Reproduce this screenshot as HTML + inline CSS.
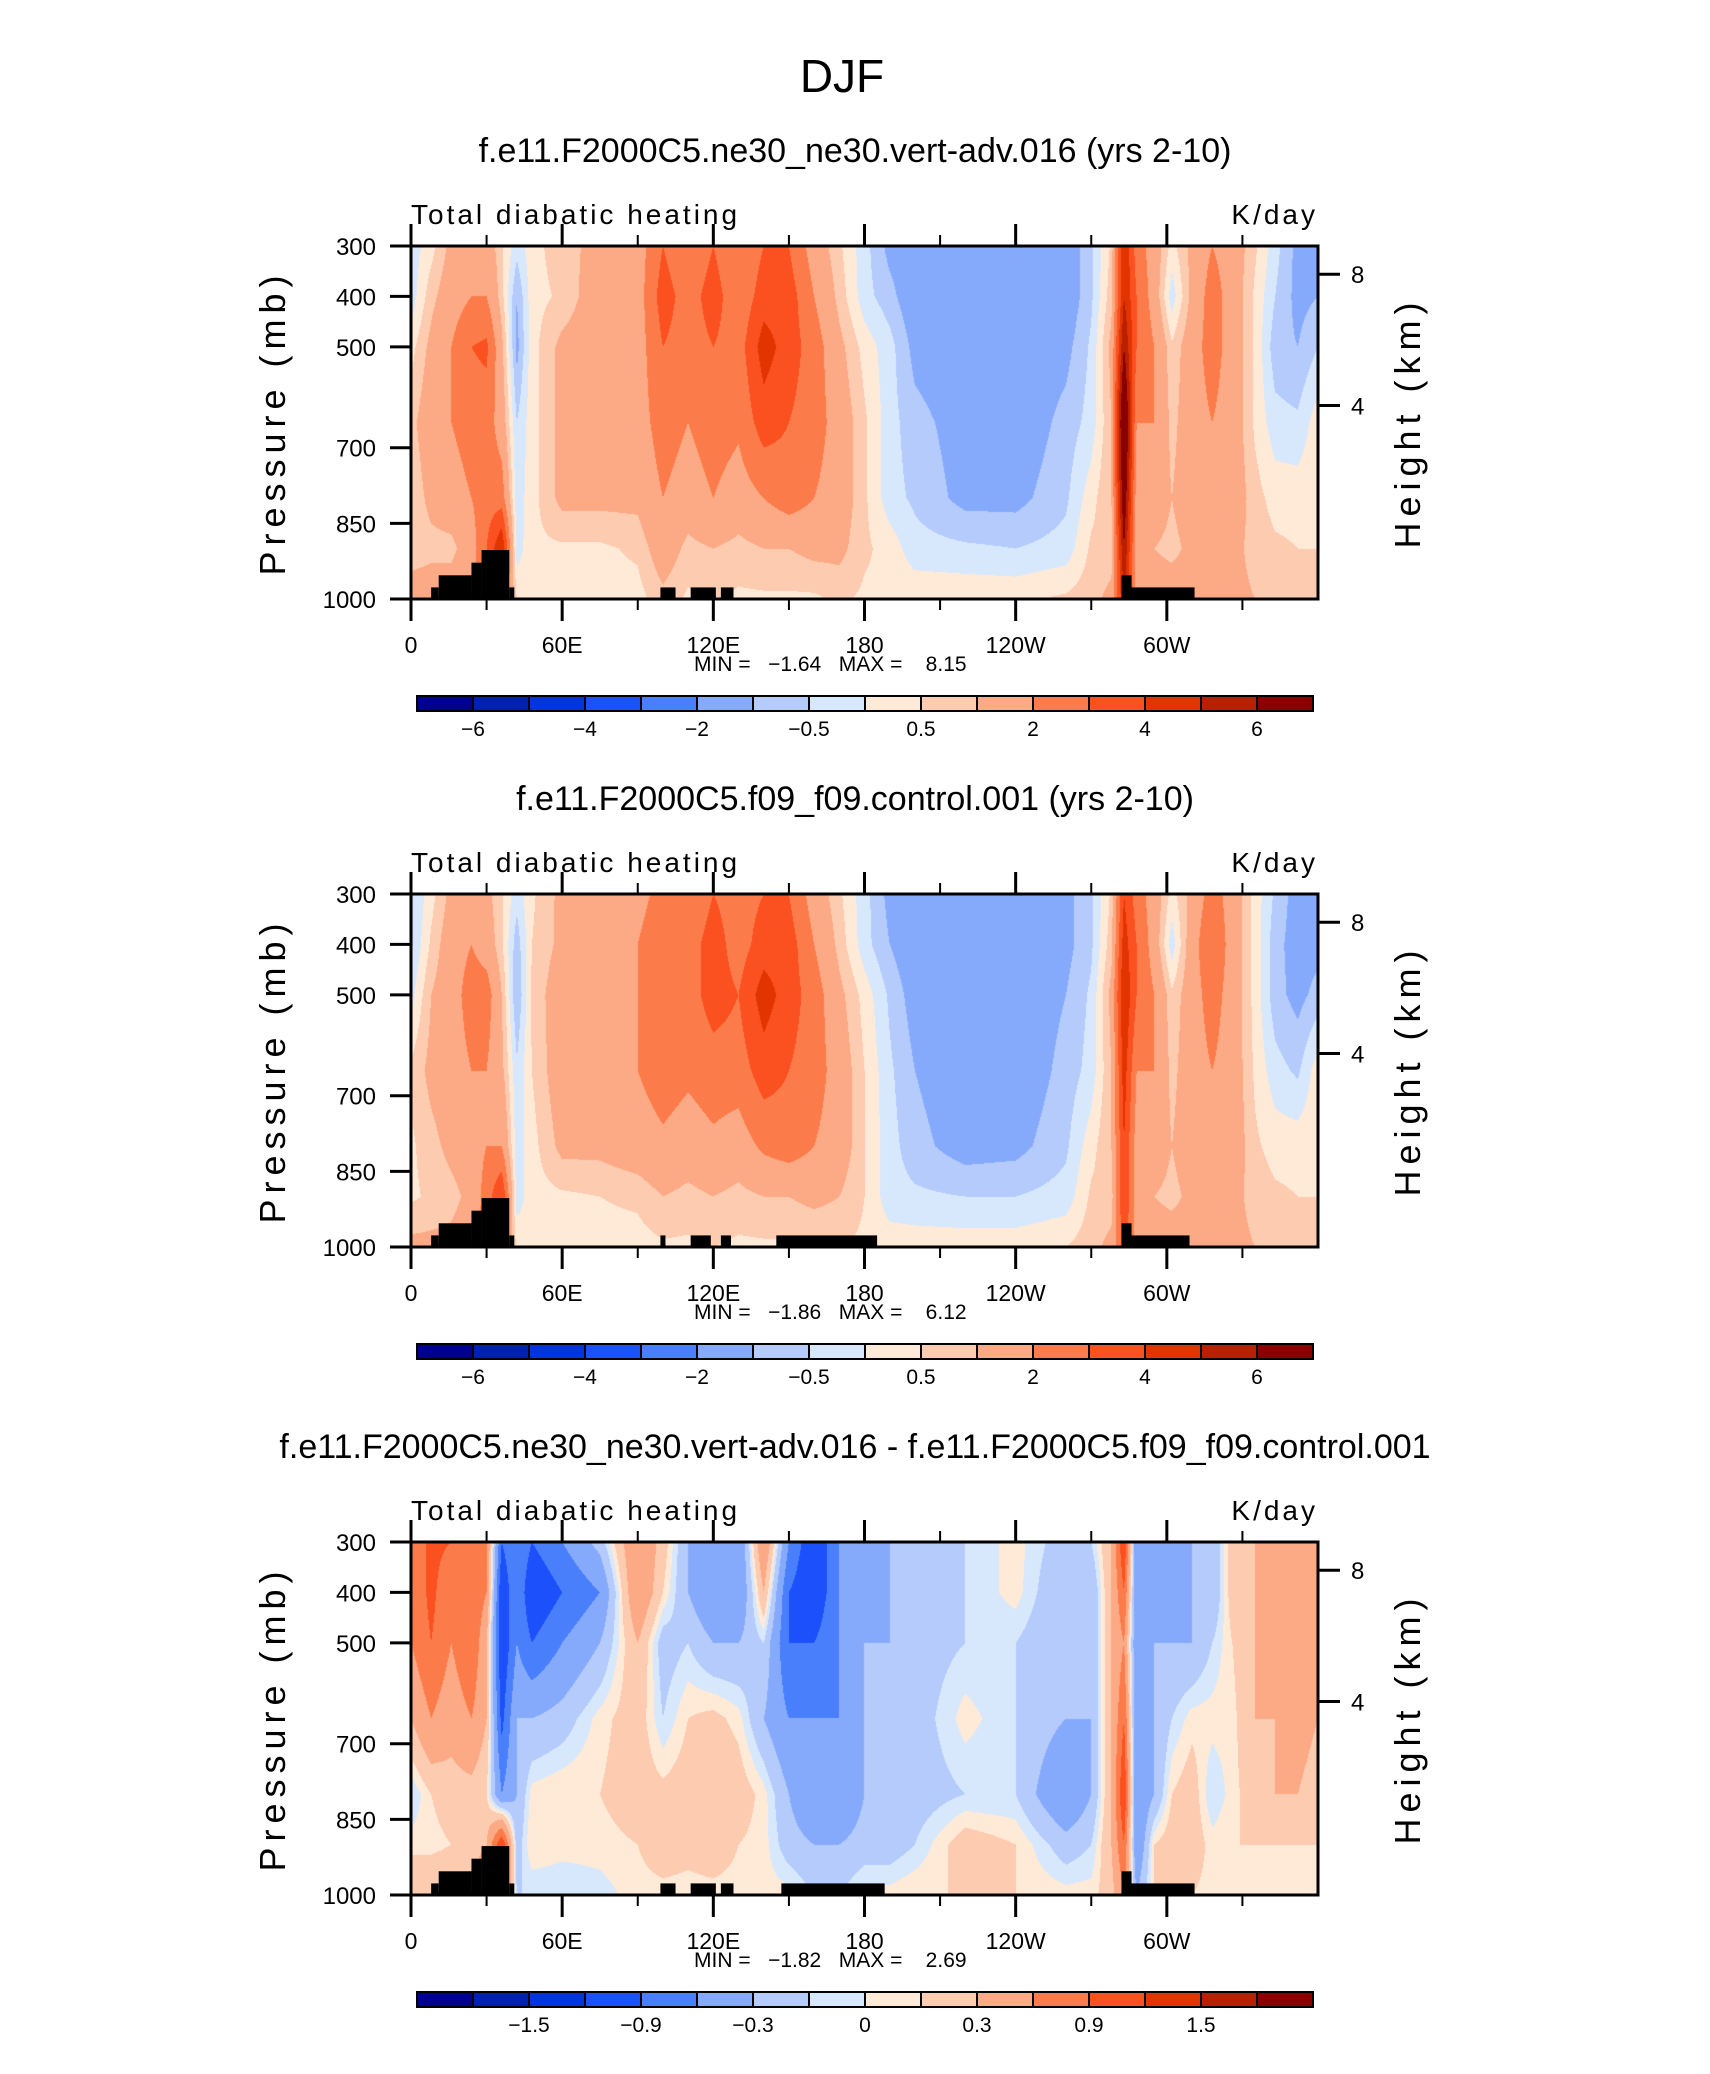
<!DOCTYPE html>
<html><head><meta charset="utf-8">
<style>
html,body{margin:0;padding:0;background:#fff;}
#root{position:relative;width:1710px;height:2074px;overflow:hidden;font-family:"Liberation Sans",sans-serif;}
canvas{position:absolute;}
svg{position:absolute;left:0;top:0;}
svg text{white-space:pre;}
</style></head>
<body>
<div id="root">
<svg id="svg" width="1710" height="2074">
<text x="842" y="92" text-anchor="middle" font-size="46" font-family="Liberation Sans, sans-serif" fill="#000">DJF</text>
</svg>
</div>
<script>
// ---- data ----
const lonNodes = [0,8,16,24,30,36,42,48,60,75,90,100,110,120,130,140,150,160,170,180,190,200,220,240,260,270,278,283,288,295,302,310,318,326,335,343,352,360];
const presNodes = [300,400,500,650,800,900,1000];
const panel1Values = [
[-0.3,-0.3,0.3,0.8,0.6,0.6,1.5],[0.3,0.8,1.2,1.5,1.2,0.8,1.5],[1.2,1.5,2,2,1.5,0.8,1.5],[1.5,2,3,2.5,2,1.5,2],
[1.5,2,3.2,2.5,2.5,3,3],[0.6,0.7,1.2,1.5,2.5,5,3],[-0.3,-1,-1.2,-0.5,-0.3,-0.3,0.5],[0.3,0.3,0.3,0.3,0.3,0.4,0.4],
[0.8,0.6,1.2,1.2,1.2,0.4,0.3],[1.2,1.5,1.5,1.5,1.2,0.4,0.3],[1.5,1.5,1.5,1.5,1.2,0.6,0.3],[3,3.5,3,2.5,2,1.5,0.8],
[2,2.5,2.5,2,1.5,0.8,0.4],[3,3.5,3,2.5,2,1,0.6],[2,2.2,2.5,2.2,1.5,0.8,0.4],[3,3.5,4.5,3.5,2,1,0.4],
[3,3.5,3.5,3,2.5,1,0.4],[1.5,2,2.5,2.5,2,1.2,0.4],[0.6,0.8,1.2,1.5,1.5,1.2,0.6],[-0.3,-0.3,0.3,0.6,0.6,0.6,0.4],
[-1.2,-0.8,-0.3,-0.3,-0.3,0.3,0.4],[-1.5,-1.5,-1.2,-0.8,-0.6,-0.3,0.4],[-1.5,-1.5,-1.5,-1.3,-1.2,-0.4,0.4],[-1.5,-1.5,-1.5,-1.5,-1.2,-0.5,0.4],
[-1.5,-1.5,-1.2,-0.8,-0.6,-0.3,0.6],[-0.6,-0.6,-0.4,-0.3,0.3,0.6,0.8],[0.6,0.8,1.2,1,1,0.7,1.2],[5,5,6,8,7,6,5],
[2.5,3,3,2,1.5,1.5,1.5],[1.5,1.5,2,2,1.5,1,1.5],[0.3,-0.3,0.6,0.8,1,0.8,1.5],[1.2,1.2,1.5,1.5,1.5,1.2,1.5],
[2,2.5,2.5,2,2,1.5,1.5],[1.5,1.5,1.5,1.5,1.5,1.2,1.2],[0.6,0.4,0.4,0.4,0.7,0.8,1],[-0.3,-0.5,-0.8,-0.3,0.3,0.6,0.8],
[-1.2,-1.2,-1,-0.4,0.3,0.5,0.8],[-1,-1,-0.5,0.3,0.4,0.5,1]];
const panel2Values = [
[-0.6,-0.6,-0.2,0.6,0.4,0.4,1.2],[0.3,0.6,1,1.2,0.8,0.6,1.2],[1.2,1.5,1.5,1.5,1.2,0.8,1.2],[1.5,2,2.5,2,1.5,1.2,1.5],
[1.2,1.5,2.5,2,2,2.5,2.5],[0.6,0.6,1,1.2,2,4,2.5],[-0.3,-0.8,-1,-0.4,-0.3,-0.3,0.4],[0.4,0.5,0.6,0.5,0.3,0.3,0.4],
[1.2,1.2,1.5,1.5,1.2,0.4,0.3],[1.5,1.5,1.5,1.5,1.2,0.5,0.3],[1.5,2,2,2,1.5,0.6,0.3],[2.5,3,3,2.5,1.8,1,0.4],
[2,2.5,2.5,2.2,1.5,0.8,0.4],[3,3.5,3.5,2.5,1.8,1,0.5],[2.5,2.5,3,2.5,1.5,0.8,0.4],[3,3.5,4.5,3.5,2.2,1,0.4],
[3,3.5,3.5,3,2.5,1,0.4],[1.5,2,2.5,2.5,2,1.2,0.4],[0.6,0.8,1.2,1.5,1.5,1,0.5],[-0.3,-0.3,0.3,0.5,0.5,0.5,0.4],
[-1.2,-1,-0.6,-0.4,-0.3,-0.3,0.3],[-1.5,-1.5,-1.3,-1,-0.8,-0.4,0.3],[-1.5,-1.5,-1.5,-1.5,-1.3,-0.5,0.3],[-1.5,-1.5,-1.5,-1.5,-1.2,-0.5,0.3],
[-1.2,-1.2,-1,-0.8,-0.6,-0.3,0.5],[-0.6,-0.6,-0.4,-0.3,0.3,0.6,0.8],[0.6,0.8,1.2,1,1,0.7,1.2],[4,4.5,5,4.5,4,4,3.5],
[2.5,3,3,2,1.5,1.5,1.5],[1.5,1.5,2,2,1.5,1,1.5],[0.3,-0.3,0.6,0.8,1,0.8,1.5],[1.2,1.5,1.5,1.5,1.5,1.2,1.5],
[2.5,3,2.5,2,2,1.5,1.5],[1.5,1.5,1.5,1.5,1.5,1.2,1.2],[0.3,0.3,0.3,0.4,0.6,0.8,1],[-0.6,-0.8,-0.8,-0.3,0.3,0.6,0.8],
[-1.3,-1.3,-1.2,-0.6,0.3,0.5,0.8],[-1.2,-1.2,-0.8,0.3,0.4,0.5,1]];
const panel3Values = [
[0.6,0.6,0.6,0.3,-0.1,0.05,0.3],[1,1,0.9,0.6,0.1,0.05,0.3],[0.9,0.6,0.6,0.4,0.2,0.1,0.3],[0.9,0.9,0.9,0.6,0.2,0.2,0.3],
[0.6,0.6,0.3,0.3,0.1,0.3,0.6],[-0.9,-1.2,-1.2,-1,-0.6,1.2,0.8],[-0.6,-0.6,-0.6,-0.3,-0.3,-0.2,-0.1],[-0.9,-1.2,-0.9,-0.3,0.05,0.1,-0.1],
[-0.6,-0.9,-0.6,-0.2,0.1,0.05,-0.1],[-0.2,-0.6,-0.3,0.05,0.1,0.05,-0.05],[0.6,0.6,0.3,0.2,0.2,0.1,0.05],[0.2,0.1,-0.2,-0.1,0.15,0.2,0.05],
[-0.3,-0.3,-0.1,0.1,0.2,0.15,0.05],[-0.3,-0.6,-0.3,0.15,0.3,0.2,0.05],[-0.6,-0.6,-0.3,0.05,0.2,0.1,0.05],[0.6,0.3,-0.1,-0.3,0.05,0.05,0.05],
[-0.6,-0.9,-0.9,-0.6,-0.3,-0.2,0.05],[-1.2,-1.2,-0.9,-0.6,-0.6,-0.3,-0.1],[-0.6,-0.6,-0.6,-0.6,-0.6,-0.3,-0.1],[-0.3,-0.4,-0.3,-0.3,-0.3,-0.2,0.05],
[-0.3,-0.3,-0.3,-0.3,-0.3,-0.2,0.05],[-0.2,-0.2,-0.2,-0.2,-0.2,-0.1,0.1],[-0.1,-0.1,-0.1,0.05,-0.1,0.2,0.1],[0.05,0.05,-0.1,-0.1,-0.1,0.1,0.1],
[-0.2,-0.3,-0.3,-0.3,-0.6,-0.2,0.05],[-0.1,-0.3,-0.3,-0.3,-0.3,-0.1,0.05],[0.3,0.3,0.3,0.3,0.3,0.3,0.2],[1.2,0.9,0.6,0.9,1.2,0.9,0.6],
[-0.6,-0.6,-0.6,-0.6,-0.6,-0.6,-0.3],[-0.3,-0.6,-0.3,-0.3,-0.3,0.1,0.1],[-0.3,-0.6,-0.3,-0.1,0.1,0.2,0.1],[-0.3,-0.3,-0.3,0.05,0.2,0.2,0.1],
[-0.3,-0.3,-0.1,0.05,-0.1,0.05,0.05],[0.2,0.2,0.1,0.05,0.05,0.1,0.05],[0.3,0.3,0.3,0.3,0.2,0.1,0.05],[0.3,0.3,0.3,0.3,0.3,0.1,0.05],
[0.6,0.6,0.6,0.4,0.3,0.1,0.05],[0.3,0.3,0.3,0.3,0.2,0.1,0.05]];
const levelsAbs = [-6,-5,-4,-3,-2,-1,-0.5,0,0.5,1,2,3,4,5,6];
const levelsDiff = [-1.8,-1.5,-1.2,-0.9,-0.6,-0.3,-0.1,0,0.1,0.3,0.6,0.9,1.2,1.5,1.8];
const labelsAbs = ["-6","-4","-2","-0.5","0.5","2","4","6"];
const labelsDiff = ["-1.5","-0.9","-0.3","0","0.3","0.9","1.5"];
const colors = ["#00008f","#0020b4","#0034e0","#1c50fb","#4a7ffb","#86aafb","#b4cbfc","#d8e8fc","#ffead8","#fdcbb0","#fca985","#fb7c4a","#fb5020","#e23400","#b82000","#8a0000"];
const topoP1 = [[8,11,977],[11,24,953],[24,28,928],[28,39,903],[39,41,977],[99,105,977],[111,121,977],[123,128,977],[282,286,953],[282,311,977]];
const topoP2 = [[8,11,977],[11,24,953],[24,28,928],[28,39,903],[39,41,977],[99,101,977],[111,119,977],[123,127,977],[145,185,977],[282,286,953],[282,309,977]];
const topoP3 = [[8,11,977],[11,24,953],[24,28,928],[28,39,903],[39,41,977],[99,105,977],[111,121,977],[123,128,977],[147,188,977],[282,286,953],[282,311,977]];
const titles = ["f.e11.F2000C5.ne30_ne30.vert-adv.016 (yrs 2-10)","f.e11.F2000C5.f09_f09.control.001 (yrs 2-10)","f.e11.F2000C5.ne30_ne30.vert-adv.016 - f.e11.F2000C5.f09_f09.control.001"];
const minVals = ["\u22121.64","\u22121.86","\u22121.82"];
const maxVals = ["8.15","6.12","2.69"];
const xTickLabels = ["0","60E","120E","180","120W","60W"];
const yTickLabels = [300,400,500,700,850,1000];
const hTickLabels = [8,4];

// ---- layout ----
const PL=411, PR=1318, PW=PR-PL, PH=353, TOP0=246, DY=648;
const NS="http://www.w3.org/2000/svg";
const svg=document.getElementById('svg');
const root=document.getElementById('root');
function el(tag,attrs,txt){const e=document.createElementNS(NS,tag);for(const k in attrs)e.setAttribute(k,attrs[k]);if(txt!==undefined)e.textContent=txt;svg.appendChild(e);return e;}
const xScale=lon=>PL+lon/360*PW;
function yScale(p,top){return top+(p-300)/700*PH;}
function hToP(h){return 1013.25*Math.pow(1-2.25577e-5*h*1000,5.25588);}

function interp(vals,lon,p){
  let i=0;while(i<lonNodes.length-2&&lon>lonNodes[i+1])i++;
  let j=0;while(j<presNodes.length-2&&p>presNodes[j+1])j++;
  const tx=(lon-lonNodes[i])/(lonNodes[i+1]-lonNodes[i]);
  const ty=(p-presNodes[j])/(presNodes[j+1]-presNodes[j]);
  const a=vals[i][j],b=vals[i+1][j],c=vals[i][j+1],d=vals[i+1][j+1];
  return (a*(1-tx)+b*tx)*(1-ty)+(c*(1-tx)+d*tx)*ty;
}
function hexRGB(h){return [parseInt(h.substr(1,2),16),parseInt(h.substr(3,2),16),parseInt(h.substr(5,2),16)];}
const rgb=colors.map(hexRGB);

const panels=[[panel1Values,levelsAbs,labelsAbs,topoP1],[panel2Values,levelsAbs,labelsAbs,topoP2],[panel3Values,levelsDiff,labelsDiff,topoP3]];
panels.forEach((pn,k)=>{
  const [vals,levels,cbl,topo]=pn;
  const top=TOP0+k*DY, bot=top+PH;
  const cv=document.createElement('canvas');
  cv.width=PW;cv.height=PH;
  cv.style.left=PL+'px';cv.style.top=top+'px';
  
  
  root.insertBefore(cv,svg);
  const ctx=cv.getContext('2d');
  const img=ctx.createImageData(PW,PH);
  for(let y=0;y<PH;y++){
    const p=300+(y+0.5)/PH*700;
    for(let x=0;x<PW;x++){
      const lon=(x+0.5)/PW*360;
      const v=Math.round(interp(vals,lon,p)*1e6)/1e6;
      let c=0;while(c<levels.length&&v>=levels[c])c++;
      const col=rgb[c];const o=(y*PW+x)*4;
      img.data[o]=col[0];img.data[o+1]=col[1];img.data[o+2]=col[2];img.data[o+3]=255;
    }
  }
  ctx.putImageData(img,0,0);
  topo.forEach(t=>{
    const r=el('rect',{x:xScale(t[0]),y:yScale(t[2],top),width:xScale(t[1])-xScale(t[0]),height:bot-yScale(t[2],top),fill:'#000'});
    
    
  });
  const fr=el('rect',{x:PL,y:top,width:PW,height:PH,fill:'none',stroke:'#000','stroke-width':3});
  
  
  const t1=el('text',{x:855,y:top-84,'text-anchor':'middle','font-size':34,fill:'#000'},titles[k]);
  
  
  const t2=el('text',{x:PL,y:top-22,'font-size':28,fill:'#000','letter-spacing':'3'},'Total diabatic heating');
  
  
  const t3=el('text',{x:PR,y:top-22,'text-anchor':'end','font-size':28,fill:'#000','letter-spacing':'3'},'K/day');
  
  
  for(let lon=0;lon<=330;lon+=30){
    const major=lon%60===0;const x=xScale(lon);
    const tb=el('line',{x1:x,x2:x,y1:bot,y2:bot+(major?22:11),stroke:'#000','stroke-width':major?3:2});
    
    
    const tt=el('line',{x1:x,x2:x,y1:top,y2:top-(major?22:11),stroke:'#000','stroke-width':major?3:2});
    
    
    if(major){
      const lb=el('text',{x:x,y:bot+54,'text-anchor':'middle','font-size':23,fill:'#000'},xTickLabels[lon/60]);
      
      
    }
  }
  yTickLabels.forEach(p=>{
    const y=yScale(p,top);
    const tk=el('line',{x1:PL-21,x2:PL,y1:y,y2:y,stroke:'#000','stroke-width':3});
    
    
    const lb=el('text',{x:376,y:y+9,'text-anchor':'end','font-size':24,fill:'#000'},String(p));
    
    
  });
  hTickLabels.forEach(h=>{
    const y=yScale(hToP(h),top);
    const tk=el('line',{x1:PR,x2:PR+22,y1:y,y2:y,stroke:'#000','stroke-width':3});
    
    
    const lb=el('text',{x:PR+33,y:y+9,'font-size':24,fill:'#000'},String(h));
    
    
  });
  const ya=el('text',{x:0,y:0,'text-anchor':'middle','font-size':36,fill:'#000','letter-spacing':'6',transform:'translate(285,'+(top+PH/2)+') rotate(-90)'},'Pressure (mb)');
  
  
  const ya2=el('text',{x:0,y:0,'text-anchor':'middle','font-size':36,fill:'#000','letter-spacing':'6',transform:'translate(1420,'+(top+PH/2)+') rotate(-90)'},'Height (km)');
  
  
  const mm=el('text',{x:694,y:bot+72,'font-size':21,fill:'#000'},'MIN =   '+minVals[k]+'   MAX =    '+maxVals[k]);
  
  
  const cbL=417,cbW=56,cbT=bot+97,cbH=15;
  colors.forEach((c,i)=>{
    const r=el('rect',{x:cbL+i*cbW,y:cbT,width:cbW,height:cbH,fill:c,stroke:'#000','stroke-width':2});
    
    
  });
  cbl.forEach((s,i)=>{
    const idx=levels.indexOf(parseFloat(s));
    const lb=el('text',{x:cbL+(idx+1)*cbW,y:cbT+40,'text-anchor':'middle','font-size':21,fill:'#000'},s.replace('-','\u2212'));
    
    
  });
});
</script>
</body></html>
